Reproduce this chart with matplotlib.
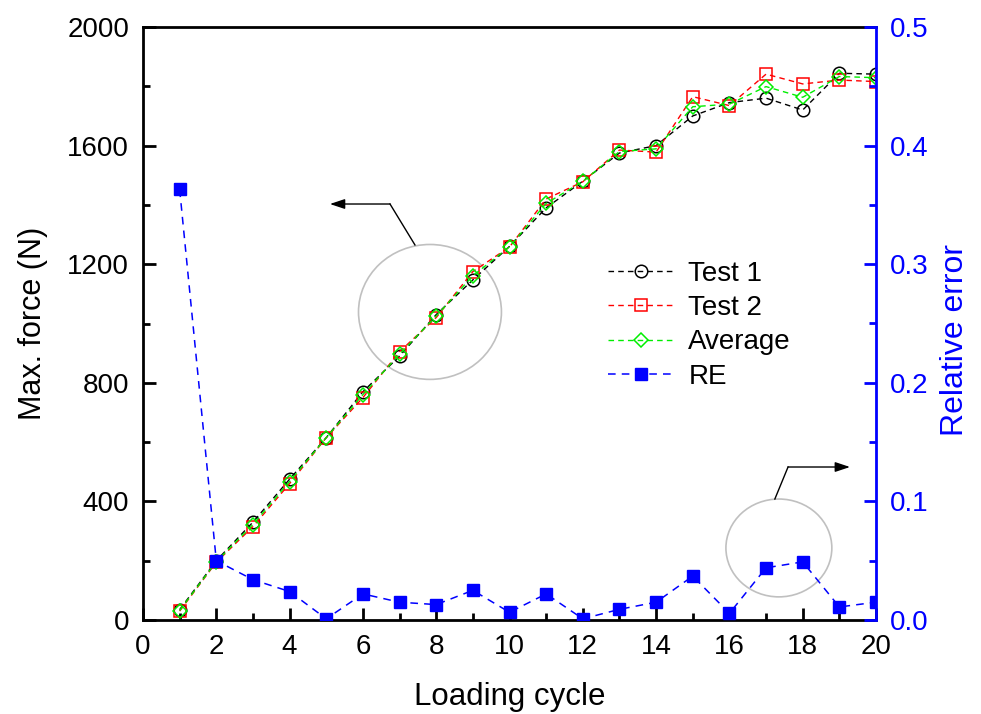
import numpy as np
import matplotlib
matplotlib.use("Agg")
import matplotlib.pyplot as plt
from matplotlib.patches import Ellipse

plt.rcParams["font.family"] = ["Liberation Sans", "DejaVu Sans"]

# data
cycles = list(range(1, 21))
test1 = [35, 200, 330, 475, 615, 770, 890, 1030, 1147, 1260,
         1390, 1480, 1575, 1600, 1700, 1745, 1760, 1720, 1844, 1841]
test2 = [30, 195, 315, 460, 615, 750, 905, 1020, 1175, 1258,
         1420, 1478, 1585, 1578, 1765, 1735, 1841, 1808, 1821, 1816]
average = [32, 197, 322, 467, 615, 760, 897, 1025, 1161, 1259,
           1405, 1479, 1580, 1589, 1731, 1740, 1799, 1763, 1833, 1829]
rel_err = [0.363, 0.050, 0.034, 0.024, 0.001, 0.022, 0.015, 0.013, 0.025, 0.0065,
           0.022, 0.001, 0.009, 0.015, 0.037, 0.0056, 0.044, 0.049, 0.011, 0.015]

# annotation geometry (data units of the force axis)
circle_left = dict(center=(7.83, 1039), width=3.90, height=455)
circle_right = dict(center=(17.35, 243), width=2.89, height=330)
arrow_left = [(7.42, 1265), (6.74, 1403), (5.10, 1403)]
arrow_right = [(17.24, 408), (17.60, 516), (19.29, 516)]

fig = plt.figure(figsize=(9.81, 7.14), dpi=100)
ax = fig.add_axes([143 / 981, 94 / 714, 733 / 981, 593 / 714])
ax2 = ax.twinx()

dash = (4, 3)
ax.plot(cycles, test1, ls="--", dashes=dash, lw=1, color="black", marker="o",
        ms=9, mfc="none", mec="black", mew=1.1, label="Test 1")
ax.plot(cycles, test2, ls="--", dashes=dash, lw=1, color="red", marker="s",
        ms=8, mfc="none", mec="red", mew=1.1, label="Test 2")
ax.plot(cycles, average, ls="--", dashes=dash, lw=1, color="#00ee00", marker="D",
        ms=7.5, mfc="none", mec="#00ee00", mew=1.1, label="Average")
ax2.plot(cycles, rel_err, ls="--", dashes=(5, 4), lw=1.1, color="blue", marker="s",
         ms=8.5, mfc="blue", mec="blue", label="RE")

ax.set_xlim(0, 20)
ax.set_ylim(0, 2000)
ax2.set_ylim(0, 0.5)
ax.set_xticks(np.arange(0, 21, 2))
ax.set_xticks(np.arange(1, 20, 2), minor=True)
ax.set_yticks(np.arange(0, 2001, 400))
ax.set_yticks(np.arange(200, 2000, 400), minor=True)
ax2.set_yticks(np.arange(0, 0.51, 0.1))
ax2.set_yticks(np.arange(0.05, 0.5, 0.1), minor=True)
ax2.set_yticklabels(["0.0", "0.1", "0.2", "0.3", "0.4", "0.5"])

for a in (ax, ax2):
    for s in a.spines.values():
        s.set_linewidth(2)
ax.spines["right"].set_visible(False)
ax2.spines["left"].set_visible(False)
ax2.spines["bottom"].set_visible(False)
ax2.spines["top"].set_visible(False)
ax2.spines["right"].set_color("blue")

ax.tick_params(axis="both", which="major", direction="in", length=9, width=2,
               labelsize=20, pad=10, top=False, right=False)
ax.tick_params(axis="both", which="minor", direction="in", length=5, width=2,
               top=False, right=False)
ax2.tick_params(axis="y", which="major", direction="in", length=9, width=2,
                labelsize=20, pad=10, colors="blue")
ax2.tick_params(axis="y", which="minor", direction="in", length=5, width=2,
                colors="blue")

ax.set_xlabel("Loading cycle", fontsize=22.5, labelpad=16)
ax.set_ylabel("Max. force (N)", fontsize=22, labelpad=14)
ax2.set_ylabel("Relative error", fontsize=23, color="blue", labelpad=8, y=0.472)

for c in (circle_left, circle_right):
    ax.add_patch(Ellipse(c["center"], c["width"], c["height"], fill=False,
                         edgecolor="#c0c0c0", lw=1.2))
for pts in (arrow_left, arrow_right):
    xs, ys = zip(*pts[:2])
    ax.plot(xs, ys, color="black", lw=1)
    ax.annotate("", xy=pts[2], xytext=pts[1],
                arrowprops=dict(arrowstyle="-|>,head_length=0.9,head_width=0.3",
                                color="black", lw=1, shrinkA=0, shrinkB=0))

h1, l1 = ax.get_legend_handles_labels()
h2, l2 = ax2.get_legend_handles_labels()
ax2.legend(h1 + h2, l1 + l2, loc="center left", bbox_to_anchor=(0.634, 0.497),
           frameon=False, fontsize=20, borderpad=0, borderaxespad=0,
           handlelength=2.4, handletextpad=0.5, labelspacing=0.3)

fig.savefig("out.png", dpi=100)
